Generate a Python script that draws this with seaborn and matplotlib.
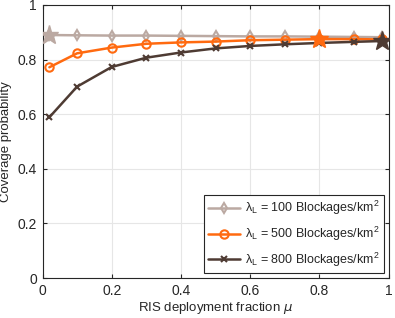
import numpy as np
import pandas as pd
import matplotlib
matplotlib.use('Agg')
import matplotlib.pyplot as plt
import seaborn as sns
from matplotlib.ticker import FuncFormatter

mu = [0.02, 0.1, 0.2, 0.3, 0.4, 0.5, 0.6, 0.7, 0.8, 0.9, 0.98]
pc_100 = [0.890, 0.889, 0.888, 0.888, 0.887, 0.886, 0.885, 0.885, 0.884, 0.883, 0.882]
pc_500 = [0.772, 0.823, 0.844, 0.858, 0.863, 0.866, 0.871, 0.873, 0.875, 0.875, 0.874]
pc_800 = [0.589, 0.701, 0.773, 0.807, 0.826, 0.841, 0.850, 0.856, 0.861, 0.865, 0.868]
labels = [r'λ$_\mathregular{L}$ = 100 Blockages/km$^\mathregular{2}$',
          r'λ$_\mathregular{L}$ = 500 Blockages/km$^\mathregular{2}$',
          r'λ$_\mathregular{L}$ = 800 Blockages/km$^\mathregular{2}$']
colors = ['#bba9a2', '#ff6a10', '#4e3b33']
markers = ['d', 'o', 'x']
# optimum points (stars)
best_idx = [0, 8, 10]

sns.set_style('whitegrid')
plt.rcParams['font.family'] = ['Liberation Sans', 'DejaVu Sans']

fig = plt.figure(figsize=(3.95, 3.18), dpi=100)
ax = fig.add_axes([42.5/395, 40/318, 346/395, 273/318])

series = [pc_100, pc_500, pc_800]
for vals, lab, c, m in zip(series, labels, colors, markers):
    df = pd.DataFrame({'mu': mu, 'pc': vals})
    if m == 'x':
        sns.lineplot(data=df, x='mu', y='pc', ax=ax, color=c, lw=1.8, marker='x',
                     markersize=5, markeredgecolor=c, markeredgewidth=1.5, label=lab)
    else:
        sns.lineplot(data=df, x='mu', y='pc', ax=ax, color=c, lw=1.8, marker=m,
                     markersize=6 if m == 'o' else 5.5, markerfacecolor='none',
                     markeredgecolor=c, markeredgewidth=1.5, label=lab)

for vals, c, i in zip(series, colors, best_idx):
    ax.plot(mu[i], vals[i], marker='*', markersize=14, color=c, ls='none', zorder=5)

ax.set_xlim(0, 1)
ax.set_ylim(0, 1)
ax.set_xticks([0, 0.2, 0.4, 0.6, 0.8, 1])
ax.set_yticks([0, 0.2, 0.4, 0.6, 0.8, 1])
fmt = FuncFormatter(lambda v, p: ('%g' % v))
ax.xaxis.set_major_formatter(fmt)
ax.yaxis.set_major_formatter(fmt)
ax.tick_params(labelsize=10, colors='#262626', length=3, direction='in',
               top=True, right=True, bottom=True, left=True, pad=4)
ax.grid(True, color='#e6e6e6', lw=0.8)
for s in ax.spines.values():
    s.set_color('#262626')
    s.set_linewidth(0.8)
ax.set_xlabel(r'RIS deployment fraction $\mu$', fontsize=9.5, color='#262626', labelpad=2)
ax.set_ylabel('Coverage probability', fontsize=9.5, color='#262626', labelpad=4)

leg = ax.legend(loc='lower right', fontsize=9, frameon=True, fancybox=False,
                edgecolor='#262626', framealpha=1, borderpad=0.35,
                handlelength=2.5, handletextpad=0.4, labelspacing=0.6,
                borderaxespad=0.4)
leg.get_frame().set_linewidth(0.8)

fig.savefig('out.png', dpi=100)
